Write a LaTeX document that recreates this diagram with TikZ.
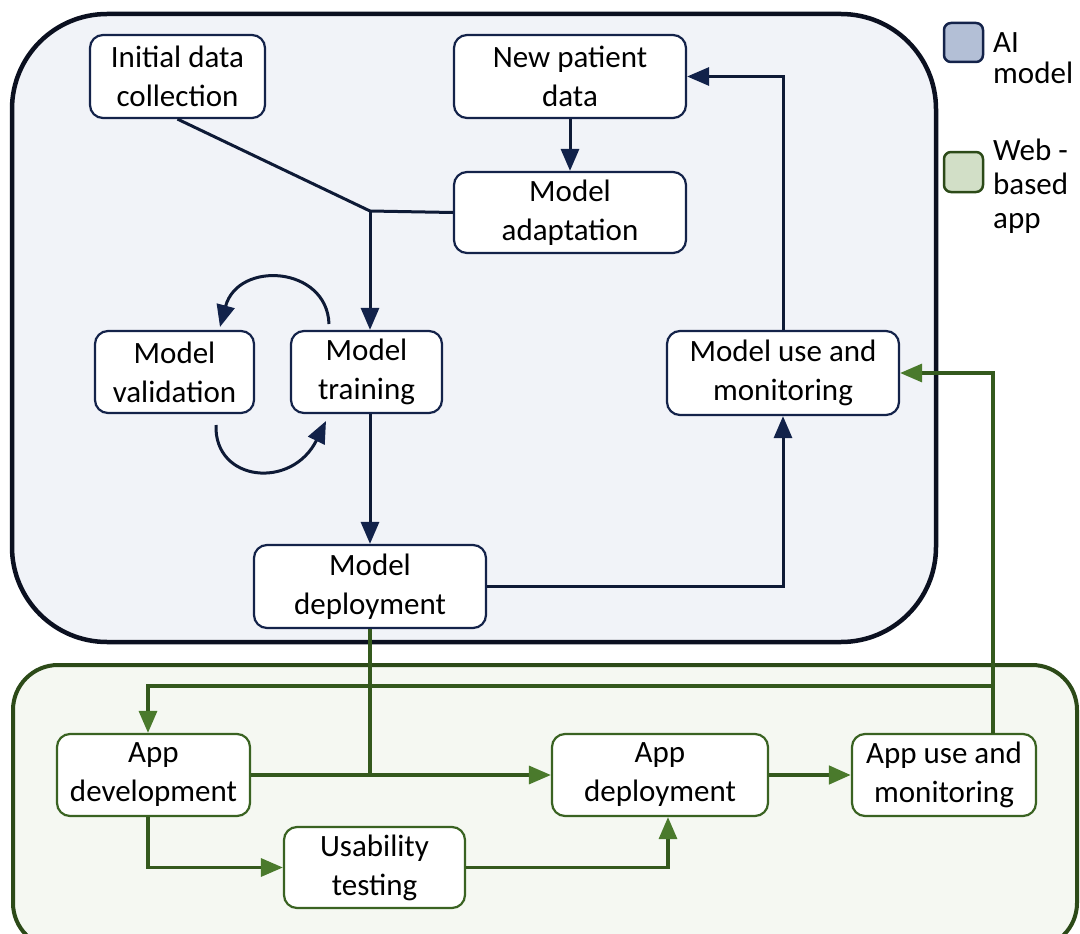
\documentclass[tikz,border=0pt]{standalone}
\usepackage{fontspec}
\setmainfont{Carlito}
\usetikzlibrary{arrows.meta}
\definecolor{navyB}{HTML}{14234A}
\definecolor{navyL}{HTML}{0E1A36}
\definecolor{navyA}{HTML}{12224A}
\definecolor{frameN}{HTML}{0B1020}
\definecolor{fillN}{HTML}{F1F3F8}
\definecolor{greenB}{HTML}{3A6322}
\definecolor{greenL}{HTML}{34591D}
\definecolor{greenA}{HTML}{4A7A2C}
\definecolor{frameG}{HTML}{2C4A18}
\definecolor{fillG}{HTML}{F5F8F2}
\definecolor{legN}{HTML}{B3BFD6}
\definecolor{legG}{HTML}{D2DFC7}
\newcommand{\nodefont}{\fontsize{31}{39}\selectfont}
\newcommand{\legfontA}{\fontsize{31}{31}\selectfont}
\newcommand{\legfontB}{\fontsize{31}{34}\selectfont}
\tikzset{
  nbox/.style={draw=navyB, line width=2.2pt, fill=white, rounded corners=13pt,
    align=center, inner sep=0pt, font=\nodefont},
  gbox/.style={nbox, draw=greenB},
  nline/.style={draw=navyL, line width=3pt},
  narrow/.style={nline, -{Triangle[length=22pt,width=18pt,color=navyA]}},
  gline/.style={draw=greenL, line width=3.2pt},
  garrow/.style={gline, -{Triangle[length=22pt,width=18pt,color=greenA]}},
  legbox/.style={line width=2.5pt, rounded corners=7pt},
  legtext/.style={anchor=west, align=left, inner sep=0pt},
}
\begin{document}
\begin{tikzpicture}[x=1pt,y=-1pt]
\useasboundingbox (0,0) rectangle (1080,934);
\fill[white] (0,0) rectangle (1080,934);
% group frames
\draw[draw=frameN, fill=fillN, line width=4.5pt, rounded corners=95pt] (12,14) rectangle (936,642);
\draw[draw=frameG, fill=fillG, line width=4pt, rounded corners=45pt] (13,665) rectangle (1077,948);
% legend
\draw[legbox, draw=navyB, fill=legN] (944,23) rectangle (983,62);
\node[legtext, font=\legfontA] (legA) at (993,58) {AI\\model};
\draw[legbox, draw=frameG, fill=legG] (944,152) rectangle (983,192);
\node[legtext, font=\legfontB] (legW) at (993,186) {Web -\\based\\app};
% AI model nodes
\node[nbox, minimum width=175pt, minimum height=83pt] (init) at (177.5,76.5) {Initial data\\collection};
\node[nbox, minimum width=232pt, minimum height=83pt] (npd) at (570,76.5) {New patient\\data};
\node[nbox, minimum width=232pt, minimum height=81pt] (madapt) at (570,212.5) {Model\\adaptation};
\node[nbox, minimum width=151pt, minimum height=82pt] (mtrain) at (366.5,372) {Model\\training};
\node[nbox, minimum width=159pt, minimum height=82pt] (mval) at (174.5,372) {Model\\validation};
\node[nbox, minimum width=232pt, minimum height=83pt] (mdep) at (370,586.5) {Model\\deployment};
\node[nbox, minimum width=232pt, minimum height=84pt] (muse) at (783,373) {Model use and\\monitoring};
% app nodes
\node[gbox, minimum width=193pt, minimum height=82pt] (adev) at (153.5,775) {App\\development};
\node[gbox, minimum width=216pt, minimum height=82pt] (adep) at (660,775) {App\\deployment};
\node[gbox, minimum width=184pt, minimum height=82pt] (ause) at (944,775) {App use and\\monitoring};
\node[gbox, minimum width=181pt, minimum height=81pt] (usab) at (374.5,867.5) {Usability\\testing};
% AI connectors
\coordinate (J) at (370,211);
\draw[nline] (init.south) -- (J);
\draw[nline] (madapt.west) -- (J);
\draw[narrow] (J) -- (J |- mtrain.north);
\draw[narrow] (npd.south) -- (madapt.north);
\draw[narrow] (mtrain.south -| J) -- (mdep.north);
\draw[narrow] (mdep.east) -| (muse.south);
\draw[narrow] (muse.north) |- (npd.east);
\coordinate (a1) at (329,324);
\coordinate (a2) at (220,327);
\draw[narrow] (a1) .. controls (327,266) and (238,260) .. (a2);
\coordinate (b1) at (216,425);
\coordinate (b2) at (326,421);
\draw[narrow] (b1) .. controls (214,482) and (292,490) .. (b2);
% app connectors
\coordinate (AU) at (993,734);
\coordinate (B1) at (993,686);
\draw[garrow] (AU) |- (muse.east);
\draw[garrow] (B1) -| ([xshift=-5.5pt]adev.north);
\draw[gline] (mdep.south) -- (mdep.south |- adev.east);
\draw[garrow] (adev.east) -- (adep.west);
\draw[garrow, line width=4.5pt] (adep.east) -- (ause.west);
\draw[garrow] ([xshift=-5.5pt]adev.south) |- (usab.west);
\draw[garrow] (usab.east) -| ([xshift=8pt]adep.south);
\end{tikzpicture}
\end{document}
